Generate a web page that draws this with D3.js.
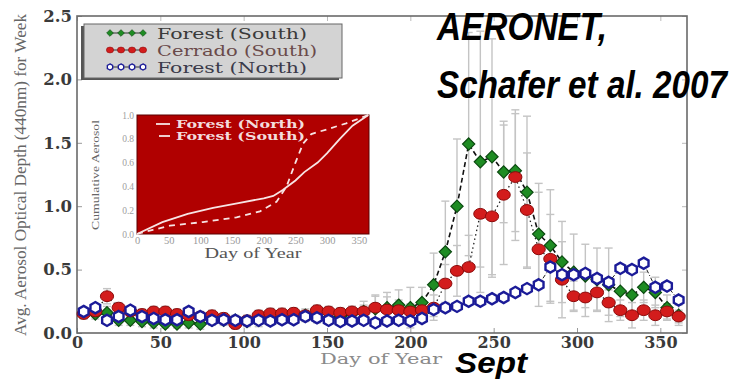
<!DOCTYPE html>
<html>
<head>
<meta charset="utf-8">
<script src="https://cdn.jsdelivr.net/npm/d3@7"></script>
<style>
  html, body { margin: 0; padding: 0; background: #fff; }
  svg { display: block; }
</style>
</head>
<body>
<svg id="chart" width="744" height="380"></svg>
<script>
// Weekly mean aerosol optical depth (440 nm), AERONET sites
const weekDays = [4, 11, 18, 25, 32, 39, 46, 53, 60, 67, 74, 81, 88, 95, 102, 109, 116, 123, 130, 137,
  144, 151, 158, 165, 172, 179, 186, 193, 200, 207, 214, 221, 228, 235, 242, 249, 256, 263, 270, 277,
  284, 291, 298, 305, 312, 319, 326, 333, 340, 347, 354, 361];

const forestSouth = [0.16, 0.15, 0.16, 0.10, 0.10, 0.09, 0.08, 0.07, 0.07, 0.08, 0.07, 0.10, 0.10, 0.10,
  0.09, 0.10, 0.11, 0.12, 0.13, 0.14, 0.13, 0.12, 0.13, 0.15, 0.17, 0.19, 0.20, 0.22, 0.20, 0.24,
  0.38, 0.64, 1.00, 1.49, 1.35, 1.39, 1.27, 1.28, 1.11, 0.78, 0.69, 0.56, 0.48, 0.45, 0.42, 0.38,
  0.33, 0.30, 0.36, 0.32, 0.20, 0.14];
const forestSouthErr = [0.04, 0.04, 0.05, 0.04, 0.04, 0.04, 0.04, 0.03, 0.03, 0.04, 0.04, 0.04, 0.04, 0.04,
  0.04, 0.05, 0.05, 0.05, 0.05, 0.05, 0.05, 0.05, 0.05, 0.06, 0.08, 0.10, 0.12, 0.12, 0.16, 0.12,
  0.25, 0.40, 0.53, 0.88, 1.03, 0.93, 0.40, 0.48, 0.60, 0.40, 0.44, 0.32, 0.30, 0.25, 0.25, 0.29,
  0.20, 0.18, 0.12, 0.12, 0.10, 0.08];

const cerradoSouth = [0.15, 0.17, 0.29, 0.20, 0.17, 0.15, 0.17, 0.17, 0.15, 0.14, 0.13, 0.14, 0.12, 0.07,
  0.10, 0.14, 0.155, 0.155, 0.16, 0.14, 0.18, 0.17, 0.16, 0.17, 0.17, 0.20, 0.185, 0.18, 0.17, 0.18,
  0.20, 0.39, 0.49, 0.52, 0.94, 0.92, 1.09, 1.23, 0.97, 0.66, 0.585, 0.42, 0.29, 0.28, 0.32, 0.24,
  0.18, 0.14, 0.18, 0.14, 0.17, 0.13];
const cerradoSouthErr = [0.04, 0.04, 0.06, 0.04, 0.04, 0.04, 0.04, 0.04, 0.04, 0.04, 0.04, 0.04, 0.04, 0.04,
  0.04, 0.04, 0.04, 0.04, 0.04, 0.04, 0.04, 0.04, 0.04, 0.04, 0.05, 0.10, 0.10, 0.08, 0.06, 0.06,
  0.10, 0.15, 0.20, 0.25, 0.42, 0.48, 0.55, 0.50, 0.45, 0.45, 0.35, 0.30, 0.12, 0.15, 0.14, 0.10,
  0.08, 0.10, 0.08, 0.08, 0.06, 0.05];

const forestNorth = [0.17, 0.20, 0.10, 0.13, 0.18, 0.13, 0.115, 0.105, 0.105, 0.17, 0.13, 0.10, 0.105, 0.10,
  0.095, 0.10, 0.095, 0.105, 0.105, 0.13, 0.12, 0.10, 0.09, 0.095, 0.10, 0.08, 0.095, 0.10, 0.095, 0.115,
  0.185, 0.20, 0.21, 0.25, 0.25, 0.27, 0.28, 0.32, 0.35, 0.38, 0.52, 0.46, 0.46, 0.47, 0.43, 0.40,
  0.51, 0.50, 0.55, 0.36, 0.37, 0.26];

// Cumulative (normalised) aerosol through the year, inset panel
const cumNorthDays = [0, 40, 80, 120, 160, 200, 215, 230, 250, 264, 285, 300, 320, 340, 365];
const cumNorth     = [0, 0.10, 0.17, 0.22, 0.26, 0.30, 0.32, 0.37, 0.45, 0.52, 0.60, 0.68, 0.80, 0.91, 1.0];
const cumSouthDays = [0, 25, 52, 104, 157, 194, 220, 236, 250, 262, 275, 300, 330, 365];
const cumSouth     = [0, 0.035, 0.07, 0.10, 0.14, 0.19, 0.27, 0.40, 0.60, 0.76, 0.84, 0.88, 0.93, 1.0];

const xTicks = [0, 50, 100, 150, 200, 250, 300, 350];
const yTicks = [0.0, 0.5, 1.0, 1.5, 2.0, 2.5];
const insetYTicks = [0.0, 0.2, 0.4, 0.6, 0.8, 1.0];

const seriesNames = ["Forest (South)", "Cerrado (South)", "Forest (North)"];
const insetNames = ["Forest (North)", "Forest (South)"];

// ---------------------------------------------------------------------------
const svg = d3.select("#chart");
const box = { left: 77, right: 687, top: 16, bottom: 333 };

const x = d3.scaleLinear().domain([0, 366]).range([box.left, box.right]);
const y = d3.scaleLinear().domain([0, 2.5]).range([box.bottom, box.top]);

const serif = "'DejaVu Serif', 'Liberation Serif', serif";

// marker shapes
const hexPath = r => d3.line()(d3.range(6).map(i => {
  const a = -Math.PI / 2 + i * Math.PI / 3;
  return [r * Math.cos(a), r * Math.sin(a)];
})) + "Z";
const diamond = d3.symbol().type(d3.symbolDiamond2).size(95)();

function drawGreen(g, cx, cy) {
  g.append("path").attr("d", diamond)
    .attr("transform", `translate(${cx},${cy})`)
    .attr("fill", "#1e8c23").attr("stroke", "#0b4a10").attr("stroke-width", 1.2);
}
function drawRed(g, cx, cy) {
  g.append("ellipse").attr("cx", cx).attr("cy", cy).attr("rx", 6.6).attr("ry", 5.4)
    .attr("fill", "#d31c1c").attr("stroke", "#8c0a0a").attr("stroke-width", 1);
}
function drawBlue(g, cx, cy) {
  g.append("path").attr("d", hexPath(5.6))
    .attr("transform", `translate(${cx},${cy})`)
    .attr("fill", "#fff").attr("stroke", "#1b1b98").attr("stroke-width", 2.4);
}

// ---- frame + axes ---------------------------------------------------------
const axes = svg.append("g");
const fmt1 = d3.format(".1f");

const gx = axes.append("g").attr("transform", `translate(0,${box.bottom})`)
  .call(d3.axisBottom(x).tickValues(xTicks).tickSize(-5).tickFormat(d3.format("d")));
gx.select(".domain").remove();
gx.selectAll("line").attr("stroke", "#999");
gx.selectAll("text").attr("dy", null).attr("y", 15)
  .attr("font-family", serif).attr("font-weight", "bold").attr("font-size", 16).attr("fill", "#3a3a3a");

const gy = axes.append("g").attr("transform", `translate(${box.left},0)`)
  .call(d3.axisLeft(y).tickValues(yTicks).tickSize(-5).tickFormat(fmt1));
gy.select(".domain").remove();
gy.selectAll("line").attr("stroke", "#999");
gy.selectAll("text").attr("x", -5)
  .attr("font-family", serif).attr("font-weight", "bold").attr("font-size", 16.5).attr("fill", "#3a3a3a");

const gt = axes.append("g").attr("transform", `translate(0,${box.top})`)
  .call(d3.axisTop(x).tickValues(xTicks).tickSize(-5).tickFormat(""));
gt.select(".domain").remove();
gt.selectAll("line").attr("stroke", "#bbb");
const gr = axes.append("g").attr("transform", `translate(${box.right},0)`)
  .call(d3.axisRight(y).tickValues(yTicks).tickSize(-5).tickFormat(""));
gr.select(".domain").remove();
gr.selectAll("line").attr("stroke", "#bbb");

axes.append("rect")
  .attr("x", box.left).attr("y", box.top)
  .attr("width", box.right - box.left).attr("height", box.bottom - box.top)
  .attr("fill", "none").attr("stroke", "#6a6a6a").attr("stroke-width", 1.6);

// axis titles
svg.append("text")
  .attr("transform", `translate(26,175) rotate(-90)`)
  .attr("text-anchor", "middle")
  .attr("font-family", "'Liberation Serif', serif").attr("font-size", 16)
  .attr("textLength", 322).attr("lengthAdjust", "spacingAndGlyphs")
  .attr("fill", "#666")
  .text("Avg. Aerosol Optical Depth (440nm) for Week");

svg.append("text")
  .attr("x", 381).attr("y", 364).attr("text-anchor", "middle")
  .attr("font-family", serif).attr("font-size", 15.5)
  .attr("textLength", 122).attr("lengthAdjust", "spacingAndGlyphs")
  .attr("fill", "#8a8a8a")
  .text("Day of Year");

// ---- error bars -----------------------------------------------------------
const errG = svg.append("g").attr("stroke", "#c4c4c4").attr("stroke-width", 1.4);
function errorBars(vals, errs) {
  vals.forEach((v, i) => {
    const cx = x(weekDays[i]);
    const lo = y(Math.max(0, v - errs[i])), hi = y(v + errs[i]);
    errG.append("line").attr("x1", cx).attr("x2", cx).attr("y1", lo).attr("y2", hi);
    errG.append("line").attr("x1", cx - 4).attr("x2", cx + 4).attr("y1", hi).attr("y2", hi);
    errG.append("line").attr("x1", cx - 4).attr("x2", cx + 4).attr("y1", lo).attr("y2", lo);
  });
}
errorBars(forestSouth, forestSouthErr);
errorBars(cerradoSouth, cerradoSouthErr);

// ---- connecting lines -----------------------------------------------------
const line = d3.line().x((d, i) => x(weekDays[i])).y(d => y(d));
svg.append("path").datum(forestSouth).attr("d", line)
  .attr("fill", "none").attr("stroke", "#111").attr("stroke-width", 1.6).attr("stroke-dasharray", "5,3");
svg.append("path").datum(cerradoSouth).attr("d", line)
  .attr("fill", "none").attr("stroke", "#222").attr("stroke-width", 1.3).attr("stroke-dasharray", "1.5,3");
svg.append("path").datum(forestNorth).attr("d", line)
  .attr("fill", "none").attr("stroke", "#222").attr("stroke-width", 1).attr("stroke-dasharray", "4,2,1,2");

// ---- markers --------------------------------------------------------------
const mk = svg.append("g");
forestSouth.forEach((v, i) => drawGreen(mk, x(weekDays[i]), y(v)));
cerradoSouth.forEach((v, i) => drawRed(mk, x(weekDays[i]), y(v)));
forestNorth.forEach((v, i) => drawBlue(mk, x(weekDays[i]), y(v)));

// ---- legend ---------------------------------------------------------------
const lg = svg.append("g");
lg.append("rect").attr("x", 81).attr("y", 26).attr("width", 258).attr("height", 54).attr("fill", "#555");
lg.append("rect").attr("x", 84).attr("y", 24).attr("width", 258).attr("height", 54)
  .attr("fill", "#d3d3d3").attr("stroke", "#666").attr("stroke-width", 1);
const legendDraw = [drawGreen, drawRed, drawBlue];
const legendTxt = ["#3a3a3a", "#6a4a4a", "#3a3a4a"];
seriesNames.forEach((name, r) => {
  const cy = 33 + r * 17;
  lg.append("line").attr("x1", 110).attr("x2", 143).attr("y1", cy).attr("y2", cy)
    .attr("stroke", "#333").attr("stroke-width", 1);
  [110, 121, 132, 143].forEach(cx => {
    const g = lg.append("g").attr("transform", `translate(${cx},${cy}) scale(0.55)`);
    legendDraw[r](g, 0, 0);
  });
  lg.append("text").attr("x", 157).attr("y", cy + 5.5)
    .attr("font-family", serif).attr("font-size", 15.5)
    .attr("textLength", r === 1 ? 160 : 150).attr("lengthAdjust", "spacingAndGlyphs")
    .attr("fill", legendTxt[r]).text(name);
});

// ---- inset: cumulative aerosol -------------------------------------------
const ib = { left: 137, right: 369, top: 115, bottom: 234 };
const ix = d3.scaleLinear().domain([0, 366]).range([ib.left, ib.right]);
const iy = d3.scaleLinear().domain([0, 1]).range([ib.bottom, ib.top]);

const inset = svg.append("g");
inset.append("rect").attr("x", ib.left).attr("y", ib.top)
  .attr("width", ib.right - ib.left).attr("height", ib.bottom - ib.top)
  .attr("fill", "#b00000").attr("stroke", "#5a0000").attr("stroke-width", 1);

const ixAxis = inset.append("g").attr("transform", `translate(0,${ib.bottom})`)
  .call(d3.axisBottom(ix).tickValues(xTicks).tickSize(0).tickFormat(d3.format("d")));
ixAxis.select(".domain").remove();
ixAxis.selectAll("text").attr("dy", null).attr("y", 9.5)
  .attr("font-family", "'Liberation Serif', serif").attr("font-size", 10.5).attr("fill", "#9a9a9a");

const iyAxis = inset.append("g").attr("transform", `translate(${ib.left},0)`)
  .call(d3.axisLeft(iy).tickValues(insetYTicks).tickSize(0).tickFormat(fmt1));
iyAxis.select(".domain").remove();
iyAxis.selectAll("text").attr("x", -3)
  .attr("font-family", "'Liberation Serif', serif").attr("font-size", 9.5).attr("fill", "#a0a0a0");

inset.append("text")
  .attr("transform", `translate(99,175) rotate(-90)`)
  .attr("text-anchor", "middle")
  .attr("font-family", "'Liberation Serif', serif").attr("font-size", 11)
  .attr("textLength", 110).attr("lengthAdjust", "spacingAndGlyphs")
  .attr("fill", "#666").text("Cumulative Aerosol");

inset.append("text")
  .attr("x", 253).attr("y", 258).attr("text-anchor", "middle")
  .attr("font-family", "'Liberation Serif', serif").attr("font-size", 14)
  .attr("textLength", 97).attr("lengthAdjust", "spacingAndGlyphs")
  .attr("fill", "#555").text("Day of Year");

const cumLine = d3.line().x(d => ix(d[0])).y(d => iy(d[1]));
inset.append("path").datum(cumNorthDays.map((d, i) => [d, cumNorth[i]]))
  .attr("d", cumLine).attr("fill", "none").attr("stroke", "#f7e4e4").attr("stroke-width", 1.8);
inset.append("path").datum(cumSouthDays.map((d, i) => [d, cumSouth[i]]))
  .attr("d", cumLine).attr("fill", "none").attr("stroke", "#f7e4e4").attr("stroke-width", 1.8)
  .attr("stroke-dasharray", "6,5");

insetNames.forEach((name, r) => {
  const cy = 124 + r * 12;
  inset.append("line").attr("x1", r === 0 ? 156 : 159).attr("x2", 170).attr("y1", cy).attr("y2", cy)
    .attr("stroke", "#f7e4e4").attr("stroke-width", 1.8);
  inset.append("text").attr("x", 176).attr("y", cy + 4)
    .attr("font-family", serif).attr("font-weight", "bold").attr("font-size", 11)
    .attr("textLength", 129).attr("lengthAdjust", "spacingAndGlyphs")
    .attr("fill", "#f3dcdc").text(name);
});

// ---- annotations ----------------------------------------------------------
const note = svg.append("g")
  .attr("font-family", "'Liberation Sans', Arial, sans-serif")
  .attr("font-weight", "bold").attr("font-style", "italic").attr("fill", "#000");
note.append("text").attr("x", 437).attr("y", 40).attr("font-size", 38)
  .attr("textLength", 170).attr("lengthAdjust", "spacingAndGlyphs").text("AERONET,");
note.append("text").attr("x", 437).attr("y", 98).attr("font-size", 38)
  .attr("textLength", 290).attr("lengthAdjust", "spacingAndGlyphs").text("Schafer et al. 2007");
note.append("text").attr("x", 455).attr("y", 373).attr("font-size", 30)
  .attr("textLength", 72).attr("lengthAdjust", "spacingAndGlyphs").text("Sept");
</script>
</body>
</html>
